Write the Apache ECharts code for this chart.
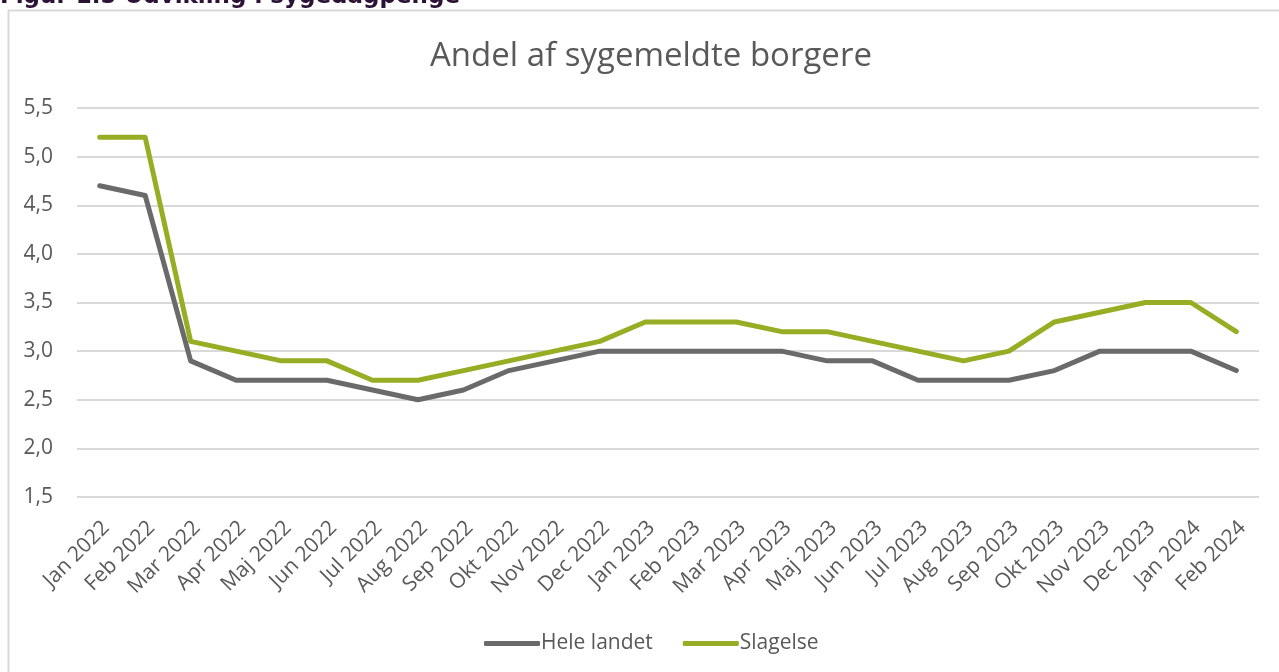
<!DOCTYPE html>
<html>
<head>
<meta charset="utf-8">
<script src="https://cdn.jsdelivr.net/npm/echarts@6/dist/echarts.min.js"></script>
<style>
  html, body { margin: 0; padding: 0; background: #fff; }
  #chart { width: 1279px; height: 672px; }
</style>
</head>
<body>
<div id="chart"></div>
<script>
// monthly share of citizens on sick leave (%)
const months = [
  'Jan 2022', 'Feb 2022', 'Mar 2022', 'Apr 2022', 'Maj 2022', 'Jun 2022',
  'Jul 2022', 'Aug 2022', 'Sep 2022', 'Okt 2022', 'Nov 2022', 'Dec 2022',
  'Jan 2023', 'Feb 2023', 'Mar 2023', 'Apr 2023', 'Maj 2023', 'Jun 2023',
  'Jul 2023', 'Aug 2023', 'Sep 2023', 'Okt 2023', 'Nov 2023', 'Dec 2023',
  'Jan 2024', 'Feb 2024',
];
const heleLandet = [
  4.7, 4.6, 2.9, 2.7, 2.7, 2.7, 2.6, 2.5, 2.6, 2.8, 2.9, 3.0,
  3.0, 3.0, 3.0, 3.0, 2.9, 2.9, 2.7, 2.7, 2.7, 2.8, 3.0, 3.0,
  3.0, 2.8,
];
const slagelse = [
  5.2, 5.2, 3.1, 3.0, 2.9, 2.9, 2.7, 2.7, 2.8, 2.9, 3.0, 3.1,
  3.3, 3.3, 3.3, 3.2, 3.2, 3.1, 3.0, 2.9, 3.0, 3.3, 3.4, 3.5,
  3.5, 3.2,
];
const yTicks = { min: 1.5, max: 5.5, step: 0.5 };

const FONT = '"Open Sans", sans-serif';
const TEXT = '#595959';
const GREY = '#6a6a6a';
const GREEN = '#97ad23';

const chart = echarts.init(document.getElementById('chart'), null, { renderer: 'canvas' });

chart.setOption({
  backgroundColor: '#fff',
  animation: false,
  textStyle: { fontFamily: FONT },
  graphic: [
    // outer frame of the embedded chart
    {
      type: 'rect',
      shape: { x: 8.5, y: 10.5, width: 1300, height: 700 },
      style: { fill: 'none', stroke: '#d9d9d9', lineWidth: 2 },
      silent: true,
    },
    // figure caption, clipped by the page top
    {
      type: 'text',
      left: 0,
      top: -14,
      style: {
        text: 'Figur 1.5 Udvikling i sygedagpenge',
        font: 'bold 23px "DejaVu Sans", Verdana, sans-serif',
        fill: '#2b1236',
      },
    },
  ],
  title: {
    text: 'Andel af sygemeldte borgere',
    left: 425,
    top: 35,
    textStyle: { color: TEXT, fontSize: 33, fontWeight: 'normal', fontFamily: FONT },
  },
  legend: {
    bottom: 13,
    left: 479,
    itemWidth: 56,
    itemHeight: 5,
    itemGap: 30,
    icon: 'roundRect',
    textStyle: { color: TEXT, fontSize: 21, fontFamily: FONT, padding: [0, 0, 0, -4] },
    data: ['Hele landet', 'Slagelse'],
  },
  grid: { left: 77, right: 20, top: 108, bottom: 175, containLabel: false },
  xAxis: {
    type: 'category',
    data: months,
    boundaryGap: true,
    axisLine: { show: false },
    axisTick: { show: false },
    axisLabel: {
      color: TEXT,
      fontSize: 21,
      rotate: 45,
      interval: 0,
      margin: 34,
      padding: [0, -9, 0, 0],
      fontFamily: FONT,
    },
  },
  yAxis: {
    type: 'value',
    min: yTicks.min,
    max: yTicks.max,
    interval: yTicks.step,
    axisLine: { show: false },
    axisTick: { show: false },
    axisLabel: {
      color: TEXT,
      fontSize: 21,
      margin: 24,
      fontFamily: FONT,
      formatter: (v) => v.toFixed(1).replace('.', ','),
    },
    splitLine: { lineStyle: { color: '#d9d9d9', width: 2 } },
  },
  series: [
    {
      name: 'Hele landet',
      type: 'line',
      data: heleLandet,
      symbol: 'none',
      lineStyle: { color: GREY, width: 5, cap: 'round', join: 'round' },
      itemStyle: { color: GREY },
    },
    {
      name: 'Slagelse',
      type: 'line',
      data: slagelse,
      symbol: 'none',
      lineStyle: { color: GREEN, width: 5, cap: 'round', join: 'round' },
      itemStyle: { color: GREEN },
    },
  ],
});
</script>
</body>
</html>
